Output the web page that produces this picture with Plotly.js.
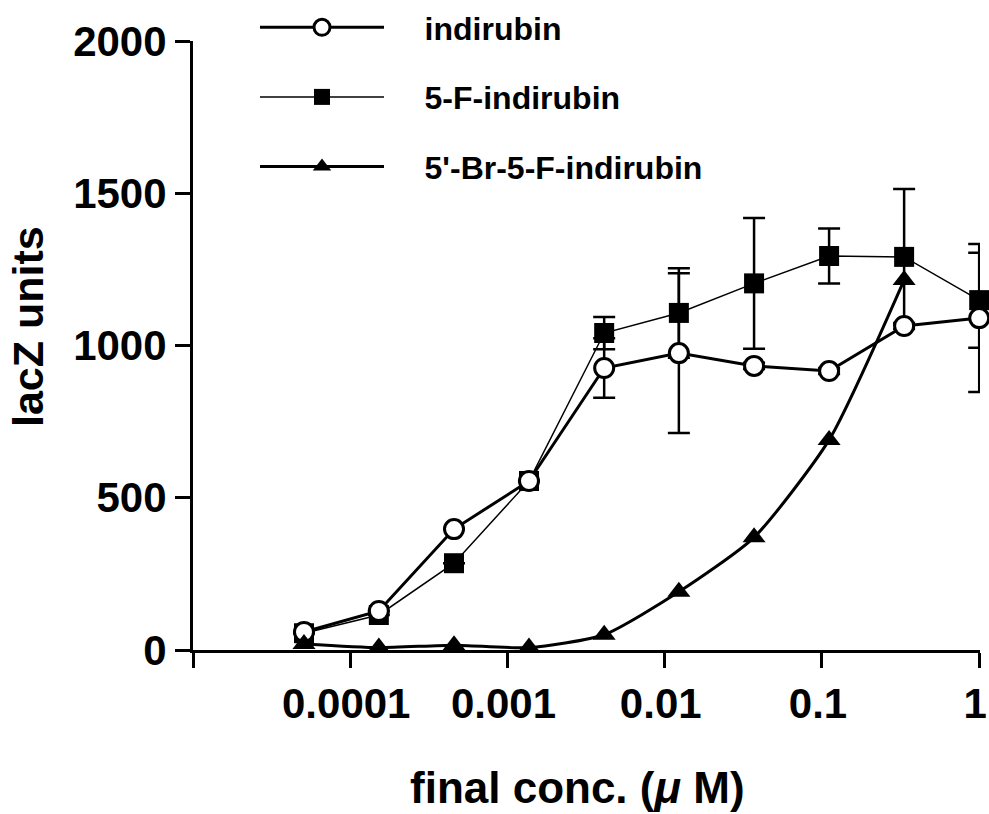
<!DOCTYPE html>
<html>
<head>
<meta charset="utf-8">
<script src="https://cdn.plot.ly/plotly-3.0.1.min.js"></script>
<style>html,body{margin:0;padding:0;background:#fff;}#chart{width:989px;height:814px;}</style>
</head>
<body>
<div id="chart"></div>
<script>
// Concentrations (µM), 3-fold dilution series
const conc = [0.0000508, 0.000152, 0.000457, 0.00137, 0.00412, 0.0123, 0.037, 0.111, 0.333, 1];
const concBr = [0.0000508, 0.000152, 0.000457, 0.00137, 0.00412, 0.0123, 0.037, 0.111, 0.333];

const indirubin = [59, 128, 397, 555, 926, 975, 933, 916, 1064, 1090];
const indirubinErr = [0, 0, 0, 0, 98, 262, 10, 10, 10, 243];

const fiveF = [55, 115, 285, 555, 1041, 1107, 1204, 1294, 1291, 1149];
const fiveFErr = [0, 0, 0, 0, 53, 147, 215, 90, 223, 156];

const brFiveF = [20, 8, 16, 8, 50, 191, 370, 690, 1215];

const seriesNames = ['indirubin', '5-F-indirubin', "5'-Br-5-F-indirubin"];
const xTickVals = [0.00001, 0.0001, 0.001, 0.01, 0.1, 1];
const xTickText = ['', '0.0001', '0.001', '0.01', '0.1', '1'];
const yTickVals = [0, 500, 1000, 1500, 2000];
const xTitle = 'final conc. (<i>μ</i> M)';
const yTitle = 'lacZ units';

const FONT = 'Liberation Sans, Arial, Helvetica, sans-serif';
const PAD = '\u00a0\u00a0\u00a0\u00a0';

const traces = [
  {
    x: conc, y: fiveF, name: PAD + seriesNames[1], type: 'scatter', mode: 'lines+markers',
    legendgroup: 'b', legendrank: 2, cliponaxis: false,
    line: {color: '#000', width: 1.5},
    marker: {symbol: 'square', size: 20, color: '#000'},
    error_y: {type: 'data', array: fiveFErr, visible: true, color: '#000', thickness: 2.5, width: 11}
  },
  {
    x: conc, y: indirubin, name: PAD + seriesNames[0], type: 'scatter', mode: 'lines+markers',
    legendgroup: 'a', legendrank: 1, cliponaxis: false,
    line: {color: '#000', width: 3},
    marker: {symbol: 'circle', size: 19, color: '#fff', line: {color: '#000', width: 3}},
    error_y: {type: 'data', array: indirubinErr, visible: true, color: '#000', thickness: 2.5, width: 11}
  },
  {
    x: concBr, y: brFiveF, name: PAD + seriesNames[2], type: 'scatter', mode: 'lines+markers',
    legendgroup: 'c', legendrank: 3, cliponaxis: false,
    line: {color: '#000', width: 3, shape: 'spline', smoothing: 0.6},
    marker: {symbol: 'triangle-up', size: 20, color: '#000'}
  }
];

const layout = {
  width: 989, height: 814,
  margin: {l: 193, r: 9, t: 41, b: 164, autoexpand: false},
  paper_bgcolor: '#fff', plot_bgcolor: '#fff',
  font: {family: FONT, color: '#000', weight: 'bold'},
  showlegend: true,
  legend: {
    xref: 'container', yref: 'container', x: 255 / 989, y: 1, yanchor: 'top', xanchor: 'left',
    font: {family: FONT, size: 32, color: '#000', weight: 'bold'},
    traceorder: 'grouped', tracegroupgap: 25, itemwidth: 124,
    bgcolor: 'rgba(0,0,0,0)'
  },
  xaxis: {
    type: 'log', range: [-5, 0.005], automargin: false,
    tickmode: 'array', tickvals: xTickVals, ticktext: xTickText, tickangle: 0,
    ticklabeloverflow: 'allow', ticklabelshift: -4,
    ticks: 'outside', ticklen: 15, tickwidth: 3, tickcolor: '#000',
    showline: true, linewidth: 3, linecolor: '#000',
    showgrid: false, zeroline: false,
    tickfont: {family: FONT, size: 42, color: '#000', weight: 'bold'}
  },
  yaxis: {
    range: [0, 2000], tickmode: 'array', tickvals: yTickVals, automargin: false,
    ticks: 'outside', ticklen: 15, tickwidth: 3, tickcolor: '#000',
    showline: true, linewidth: 3, linecolor: '#000',
    showgrid: false, zeroline: false,
    tickfont: {family: FONT, size: 42, color: '#000', weight: 'bold'}
  },
  annotations: [
    {text: xTitle, xref: 'paper', yref: 'paper', x: (577 - 193) / 787, y: (650 - 787) / 609,
     xanchor: 'center', yanchor: 'middle', showarrow: false,
     font: {family: FONT, size: 44, color: '#000', weight: 'bold'}},
    {text: yTitle, xref: 'paper', yref: 'paper', x: (28 - 193) / 787, y: (650 - 327) / 609,
     xanchor: 'center', yanchor: 'middle', showarrow: false, textangle: -90,
     font: {family: FONT, size: 43, color: '#000', weight: 'bold'}}
  ]
};

Plotly.newPlot('chart', traces, layout, {displayModeBar: false, staticPlot: true});
</script>
</body>
</html>
